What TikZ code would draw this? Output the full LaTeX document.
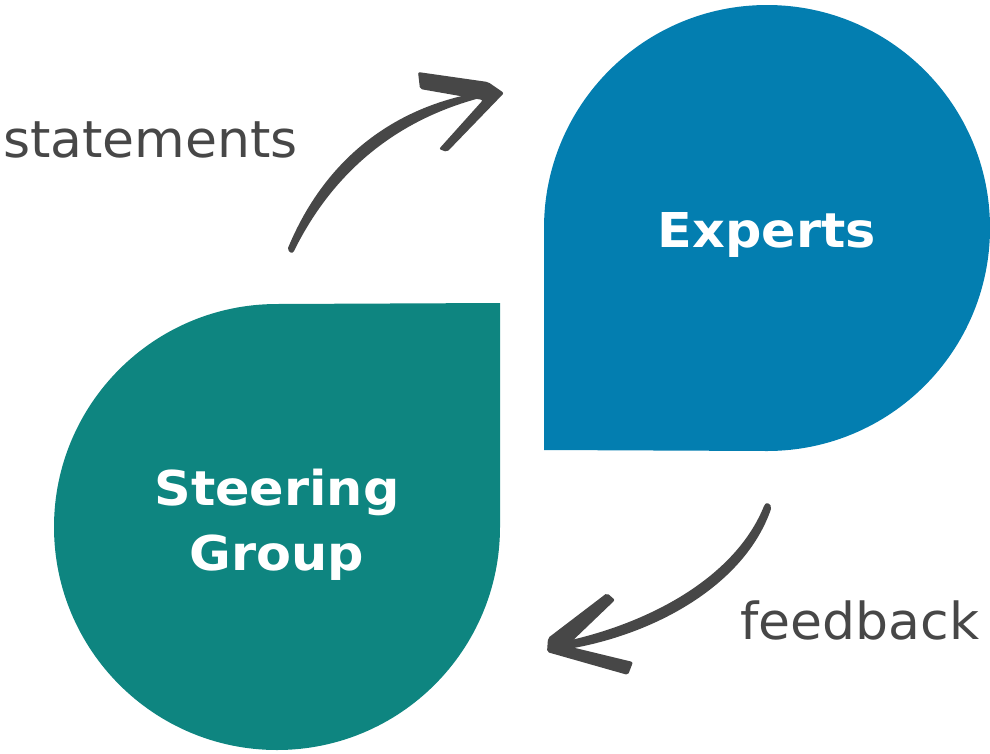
\documentclass[tikz,border=0pt]{standalone}
\usepackage{fontspec}
\setmainfont{DejaVu Sans}
\newfontfamily\boldwide[FakeStretch=1.06]{DejaVu Sans Bold}
\newfontfamily\regwide[FakeStretch=1.02]{DejaVu Sans}
\definecolor{expblue}{HTML}{037EB0}
\definecolor{steerteal}{HTML}{0E8580}
\definecolor{inkgray}{HTML}{474747}
\tikzset{
  blob/.style={draw=none},
  ink/.style={fill=inkgray, draw=none},
  bigtxt/.style={text=white, font=\boldwide\fontsize{48}{65}\selectfont, align=center, inner sep=0pt},
  lbl/.style={text=inkgray, font=\regwide\fontsize{51}{60}\selectfont, inner sep=0pt}
}
\begin{document}
\begin{tikzpicture}[x=1pt, y=-1pt]
\useasboundingbox (0,0) rectangle (990,753);
% Experts drop
\fill[blob, expblue] (544,450) -- (544,228) arc[start angle=180, end angle=450, radius=223] -- cycle;
% Steering drop
\fill[blob, steerteal] (500,303) -- (500,527) arc[start angle=0, end angle=270, radius=223] -- cycle;
\node[bigtxt, anchor=base] (experts) at (767,247) {Experts};
\node[bigtxt, anchor=base] (steering) at (277,570) {Steering\\Group};
\node[lbl, anchor=base west] (statements) at (3,157) {statements};
\node[lbl, anchor=base west] (feedback) at (740,639) {feedback};
% top arrow shaft
\fill[ink] (288,248) .. controls (326,156) and (398,104) .. (488,91)
  -- (488,96) .. controls (404,116) and (336,166) .. (294,251)
  .. controls (293,254) and (288,253) .. (288,248) -- cycle;
% top arrow head
\fill[ink, rounded corners=2pt] (418,72) -- (488,82) -- (504,93) -- (447,152)
  -- (439,149) -- (483,100) -- (420,89) -- cycle;
% bottom arrow shaft
\fill[ink] (764,506) .. controls (735,578) and (648,624) .. (562,642)
  -- (562,650) .. controls (654,636) and (745,585) .. (771,509)
  .. controls (772,503) and (765,501) .. (764,506) -- cycle;
% bottom arrow head
\fill[ink, rounded corners=2pt] (607,593) -- (548,638) -- (547,652) -- (628,675)
  -- (633,662) -- (567,646) -- (615,600) -- cycle;
\end{tikzpicture}
\end{document}
